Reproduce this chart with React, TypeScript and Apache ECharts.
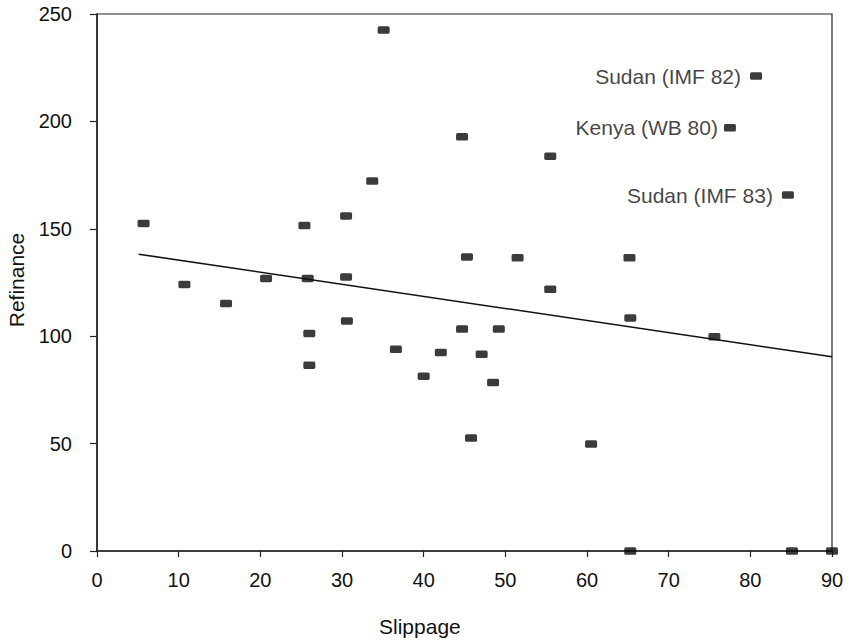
import React, { useEffect, useRef } from "react";
import * as echarts from "echarts";

const xTicks = [0, 10, 20, 30, 40, 50, 60, 70, 80, 90];
const yTicks = [0, 50, 100, 150, 200, 250];

// [slippage, refinance]
const points: [number, number][] = [
  [5.7, 152.5], [10.7, 124.1], [15.8, 115.2], [20.7, 126.9], [25.4, 151.5],
  [25.8, 126.9], [26.0, 101.3], [26.0, 86.5], [30.5, 156.0], [30.5, 127.6],
  [30.6, 107.1], [33.7, 172.2], [35.1, 242.5], [36.6, 93.9], [40.0, 81.4],
  [42.1, 92.4], [44.7, 192.8], [44.7, 103.3], [45.3, 136.9], [45.8, 52.6],
  [47.1, 91.6], [48.5, 78.4], [49.2, 103.3], [51.5, 136.5], [55.5, 183.8],
  [55.5, 121.8], [60.5, 49.8], [65.2, 136.5], [65.3, 108.5], [65.3, 0],
  [75.6, 99.7], [85.1, 0], [90, 0],
];

const labeledNames = ["Sudan (IMF 82)", "Kenya (WB 80)", "Sudan (IMF 83)"];
const labeledPoints: [number, number][] = [
  [80.7, 221.1], [77.5, 197.0], [84.6, 165.7],
];
const labelDistances = [9, 6, 9];

const trendLine: [number, number][] = [
  [5.1, 138.2], [90, 90.4],
];

const FONT = "'Liberation Sans', Arial, sans-serif";
const MARKER = "path://M1.5,0 H10.5 Q12,0 12,1.5 V5.5 Q12,7 10.5,7 H1.5 Q0,7 0,5.5 V1.5 Q0,0 1.5,0 Z";
const TEXT = "#111";

export default function App() {
  const ref = useRef<HTMLDivElement>(null);
  useEffect(() => {
    document.body.style.margin = "0";
    const chart = echarts.init(ref.current!, null, { renderer: "svg" });
    chart.setOption({
      animation: false,
      backgroundColor: "#ffffff",
      textStyle: { fontFamily: FONT, color: TEXT },
      grid: {
        left: 97,
        right: 17,
        top: 14,
        bottom: 91,
        show: true,
        borderColor: "#222",
        borderWidth: 1.2,
        backgroundColor: "transparent",
      },
      xAxis: {
        type: "value",
        min: xTicks[0],
        max: xTicks[xTicks.length - 1],
        interval: 10,
        axisLine: { show: true, onZero: false, lineStyle: { color: "#222", width: 1.5 } },
        axisTick: { show: true, length: 6, lineStyle: { color: "#222", width: 1.2 } },
        splitLine: { show: false },
        axisLabel: {
          fontSize: 20,
          fontFamily: FONT,
          color: TEXT,
          margin: 19,
        },
      },
      yAxis: {
        type: "value",
        min: yTicks[0],
        max: yTicks[yTicks.length - 1],
        interval: 50,
        axisLine: { show: true, onZero: false, lineStyle: { color: "#222", width: 1.5 } },
        axisTick: { show: true, length: 7, lineStyle: { color: "#222", width: 1.2 } },
        splitLine: { show: false },
        axisLabel: {
          fontSize: 20,
          fontFamily: FONT,
          color: TEXT,
          margin: 25,
        },
      },
      graphic: [
        {
          type: "text",
          left: 421 - 42,
          top: 616,
          style: { text: "Slippage", font: `21px ${FONT}`, fill: TEXT },
        },
        {
          type: "text",
          x: 16.5,
          y: 280,
          rotation: Math.PI / 2,
          style: {
            text: "Refinance",
            font: `21px ${FONT}`,
            fill: TEXT,
            align: "center",
            verticalAlign: "middle",
          },
        },
      ],
      series: [
        {
          type: "line",
          data: trendLine,
          symbol: "none",
          lineStyle: { color: "#111", width: 1.5 },
          silent: true,
        },
        {
          type: "scatter",
          data: points,
          symbol: MARKER,
          symbolSize: [12, 7.5],
          itemStyle: { color: "#0a0a0a" },
          clip: false,
        },
        {
          type: "scatter",
          data: labeledPoints.map((p, i) => ({
            value: p,
            name: labeledNames[i],
            label: {
              show: true,
              position: "left",
              distance: labelDistances[i],
              formatter: labeledNames[i],
              fontSize: 21,
              fontFamily: FONT,
              color: TEXT,
            },
          })),
          symbol: MARKER,
          symbolSize: [12, 7.5],
          itemStyle: { color: "#0a0a0a" },
          clip: false,
        },
      ],
    });
    return () => chart.dispose();
  }, []);
  return <div ref={ref} style={{ width: 849, height: 642 }} />;
}
